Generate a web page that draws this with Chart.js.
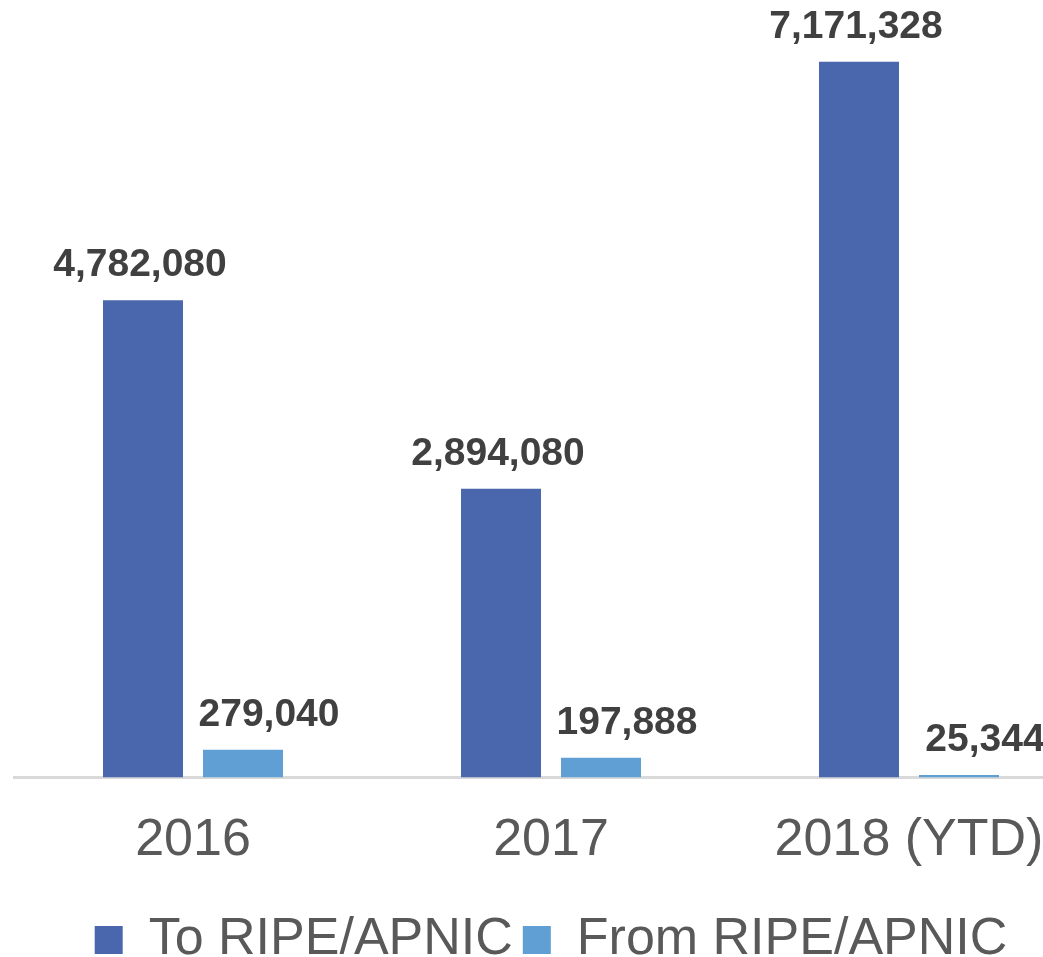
<!DOCTYPE html>
<html>
<head>
<meta charset="utf-8">
<script src="https://cdn.jsdelivr.net/npm/chart.js@4/dist/chart.umd.min.js"></script>
<style>
  html, body { margin: 0; padding: 0; background: #fff; overflow: hidden; }
  #wrap { width: 1100px; height: 957px; }
</style>
</head>
<body>
<div id="wrap"><canvas id="chart" width="1100" height="957"></canvas></div>
<script>
// data
const years = ['2016', '2017', '2018 (YTD)'];
const toRipeApnic = [4782080, 2894080, 7171328];
const fromRipeApnic = [279040, 197888, 25344];

// draws the bold value above each bar
const valueLabels = {
    id: 'valueLabels',
    afterDatasetsDraw(chart) {
        const ctx = chart.ctx;
        ctx.save();
        ctx.font = 'bold 39px "Liberation Sans", Arial, sans-serif';
        ctx.fillStyle = '#404040';
        ctx.textAlign = 'center';
        ctx.textBaseline = 'alphabetic';
        chart.data.datasets.forEach((ds, i) => {
            const meta = chart.getDatasetMeta(i);
            meta.data.forEach((bar, j) => {
                const txt = ds.data[j].toLocaleString('en-US');
                ctx.fillText(txt, bar.x + (ds.labelShift || 0), bar.y - 24);
            });
        });
        ctx.restore();
    }
};

new Chart(document.getElementById('chart'), {
    type: 'bar',
    data: {
        labels: years,
        datasets: [{
            label: 'To RIPE/APNIC',
            data: toRipeApnic,
            backgroundColor: '#4a66ac',
            labelShift: -3
        }, {
            label: 'From RIPE/APNIC',
            data: fromRipeApnic,
            backgroundColor: '#5f9fd3',
            labelShift: 26
        }]
    },
    options: {
        responsive: false,
        animation: false,
        devicePixelRatio: 1,
        categoryPercentage: 0.5587,
        barPercentage: 0.8,
        // negative bottom padding lets the legend sit near the bottom edge
        layout: { padding: { left: 14, right: 12, top: 0, bottom: -19 } },
        scales: {
            y: { display: false, min: 0, max: 7790000 },
            x: {
                grid: { display: false, drawTicks: false },
                border: { display: true, color: '#d9d9d9', width: 3 },
                ticks: {
                    color: '#595959',
                    padding: 32,
                    maxRotation: 0,
                    autoSkip: false,
                    font: { family: '"Liberation Sans", Arial, sans-serif', size: 52, lineHeight: 1.2 }
                }
            }
        },
        plugins: {
            legend: {
                position: 'bottom',
                labels: {
                    color: '#595959',
                    boxWidth: 28,
                    boxHeight: 28,
                    padding: 10,
                    font: { family: '"Liberation Sans", Arial, sans-serif', size: 52 }
                }
            },
            tooltip: { enabled: false }
        }
    },
    plugins: [valueLabels]
});
</script>
</body>
</html>
